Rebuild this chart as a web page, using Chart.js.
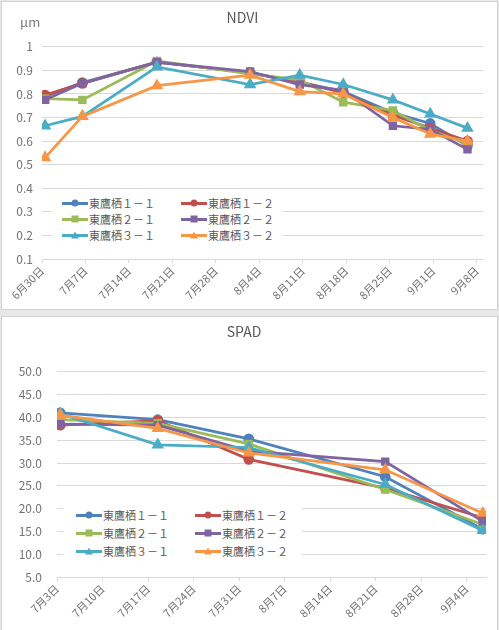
<!DOCTYPE html>
<html>
<head>
<meta charset="utf-8">
<script src="https://cdn.jsdelivr.net/npm/chart.js@4/dist/chart.umd.min.js"></script>
<style>
  body { margin: 0; width: 499px; height: 630px; background: #e8e8e8; position: relative; overflow: hidden;
         font-family: 'Noto Sans CJK JP', sans-serif; }
  .panel { position: absolute; left: 2px; width: 495px; background: #fff; outline: 1px solid #d2d2d2; }
  #p1 { top: 2px; height: 307px; }
  #p2 { top: 317px; height: 313px; }
  canvas { display: block; }
  .unit { position: absolute; left: 18px; top: 10px; font-size: 13px; color: #7a7a7a; }
  .legend { position: absolute; background: #fff; display: grid; grid-template-columns: 119px 119px;
            font-size: 11px; color: #595959; }
  .legend .item { display: flex; align-items: center; white-space: nowrap; }
  .key { position: relative; display: inline-block; width: 26px; height: 3px; margin-right: 1px; }
  .key i { position: absolute; left: 50%; top: 50%; transform: translate(-50%, -50%); }
  .key i.circle { width: 7px; height: 7px; border-radius: 50%; background: var(--c); }
  .key i.rect { width: 7px; height: 7px; background: var(--c); }
  .key i.triangle { width: 0; height: 0; border-left: 4px solid transparent; border-right: 4px solid transparent;
                    border-bottom: 7px solid var(--c); top: 40%; }
  #lg1 { left: 50px; top: 193px; width: 231px; height: 48px; padding-left: 10px; box-sizing: border-box;
         grid-auto-rows: 16px; }
  #lg2 { left: 62px; top: 187px; width: 238px; height: 58px; padding: 2px 0 0 12px; box-sizing: border-box;
         grid-auto-rows: 18px; }
</style>
</head>
<body>
<div class="panel" id="p1">
  <canvas id="ndviChart" width="495" height="307"></canvas>
  <div class="unit">μm</div>
  <div class="legend" id="lg1"></div>
</div>
<div class="panel" id="p2">
  <canvas id="spadChart" width="495" height="313"></canvas>
  <div class="legend" id="lg2"></div>
</div>
<script>
// 系列
const seriesNames = ['東鷹栖１－１', '東鷹栖１－２', '東鷹栖２－１', '東鷹栖２－２', '東鷹栖３－１', '東鷹栖３－２'];
const seriesColors = ['#4f81bd', '#c0504d', '#9bbb59', '#8064a2', '#4bacc6', '#f79646'];
const seriesMarkers = ['circle', 'circle', 'rect', 'rect', 'triangle', 'triangle'];

// NDVI
const ndviDates = ['6/30', '7/6', '7/18', '8/2', '8/10', '8/17', '8/25', '8/31', '9/6'];
const ndvi11 = [0.79, 0.848, 0.935, 0.89, 0.85, 0.81, 0.72, 0.675, 0.58];
const ndvi12 = [0.795, 0.845, 0.935, 0.89, 0.85, 0.805, 0.71, 0.655, 0.60];
const ndvi21 = [0.78, 0.775, 0.94, 0.885, 0.86, 0.765, 0.73, 0.645, 0.59];
const ndvi22 = [0.775, 0.845, 0.935, 0.895, 0.84, 0.815, 0.665, 0.65, 0.565];
const ndvi31 = [0.665, 0.705, 0.915, 0.84, 0.88, 0.84, 0.775, 0.715, 0.655];
const ndvi32 = [0.53, 0.705, 0.835, 0.88, 0.81, 0.80, 0.70, 0.63, 0.60];
const ndviTickLabels = ['6月30日', '7月7日', '7月14日', '7月21日', '7月28日', '8月4日',
                        '8月11日', '8月18日', '8月25日', '9月1日', '9月8日'];

// SPAD
const spadDates = ['7/3', '7/18', '8/1', '8/22', '9/6'];
const spad11 = [41.0, 39.5, 35.3, 27.0, 15.5];
const spad12 = [38.3, 39.3, 30.8, 24.5, 18.0];
const spad21 = [39.5, 38.7, 34.2, 24.2, 16.5];
const spad22 = [38.5, 38.3, 32.6, 30.3, 17.2];
const spad31 = [40.8, 34.0, 33.4, 25.3, 15.2];
const spad32 = [40.5, 37.6, 32.2, 28.5, 19.0];
const spadTickLabels = ['7月3日', '7月10日', '7月17日', '7月24日', '7月31日',
                        '8月7日', '8月14日', '8月21日', '8月28日', '9月4日'];

Chart.defaults.font.family = "'Noto Sans CJK JP', sans-serif";
Chart.defaults.color = '#737373';

// '6/30' も '6月30日' も日数に
function dayOf(md) {
  const m = md.match(/(\d+)\D+(\d+)/);
  return Date.UTC(2018, m[1] - 1, m[2]) / 86400000;
}

function makeChart(id, o) {
  const start = dayOf(o.tickLabels[0]);
  const datasets = o.series.map((vals, i) => ({
    label: seriesNames[i],
    // Excelの日付軸と同じく日の中央に置く
    data: vals.map((v, j) => ({ x: dayOf(o.dates[j]) - start + 0.5, y: v })),
    borderColor: seriesColors[i],
    backgroundColor: seriesColors[i],
    borderWidth: 2.75,
    pointStyle: seriesMarkers[i],
    pointRadius: seriesMarkers[i] === 'triangle' ? 4.5 : 4,
    order: seriesNames.length - i
  }));

  return new Chart(document.getElementById(id), {
    type: 'line',
    data: { datasets },
    options: {
      responsive: false,
      animation: false,
      layout: { padding: { left: 0, right: o.rightPad, top: 0, bottom: 0 } },
      plugins: {
        legend: { display: false },
        tooltip: { enabled: false },
        title: {
          display: true,
          text: o.title,
          color: '#595959',
          font: { size: 14, weight: 'normal' },
          padding: o.titlePad
        }
      },
      scales: {
        x: {
          type: 'linear',
          min: 0,
          max: o.xMax,
          afterBuildTicks: axis => {
            axis.ticks = o.tickLabels.map(l => ({ value: dayOf(l) - start }));
          },
          afterFit: axis => { axis.height = o.xHeight; },
          ticks: {
            autoSkip: false,
            minRotation: 45,
            maxRotation: 45,
            padding: 1,
            font: { size: 11 },
            callback: (v, i) => o.tickLabels[i]
          },
          grid: { drawOnChartArea: false, drawTicks: true, tickLength: 4, color: '#d9d9d9' },
          border: { color: '#d9d9d9' }
        },
        y: {
          min: o.yMin,
          max: o.yMax,
          afterFit: axis => { axis.width = o.yWidth; },
          ticks: {
            stepSize: o.yStep,
            padding: o.yPad,
            font: { size: 12 },
            callback: o.yFmt
          },
          grid: { color: '#d9d9d9', drawTicks: false },
          border: { display: false }
        }
      }
    }
  });
}

function buildLegend(id) {
  const el = document.getElementById(id);
  seriesNames.forEach((name, i) => {
    const item = document.createElement('div');
    item.className = 'item';
    item.innerHTML = '<span class="key" style="background:' + seriesColors[i] + '"><i class="' +
      seriesMarkers[i] + '" style="--c:' + seriesColors[i] + '"></i></span>' + name;
    el.appendChild(item);
  });
}

makeChart('ndviChart', {
  title: 'NDVI',
  dates: ndviDates,
  series: [ndvi11, ndvi12, ndvi21, ndvi22, ndvi31, ndvi32],
  tickLabels: ndviTickLabels,
  xMax: 71,
  yMin: 0.1, yMax: 1, yStep: 0.1,
  yFmt: v => String(Math.round(v * 10) / 10),
  yWidth: 40, yPad: 9,
  xHeight: 50,
  rightPad: 14,
  titlePad: { top: 7, bottom: 21 }
});

makeChart('spadChart', {
  title: 'SPAD',
  dates: spadDates,
  series: [spad11, spad12, spad21, spad22, spad31, spad32],
  tickLabels: spadTickLabels,
  xMax: 66,
  yMin: 5, yMax: 50, yStep: 5,
  yFmt: v => v.toFixed(1),
  yWidth: 55, yPad: 15,
  xHeight: 53,
  rightPad: 11,
  titlePad: { top: 6, bottom: 32 }
});

buildLegend('lg1');
buildLegend('lg2');
</script>
</body>
</html>
